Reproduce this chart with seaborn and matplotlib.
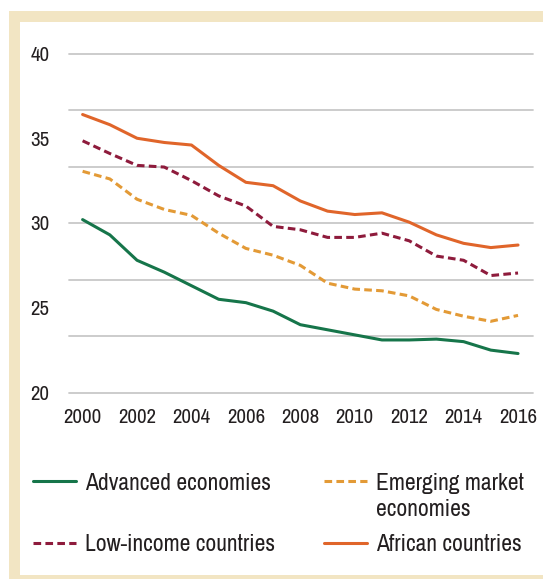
import matplotlib
matplotlib.use("Agg")
import matplotlib.pyplot as plt
from matplotlib.patches import Rectangle
from matplotlib.lines import Line2D
from matplotlib.ticker import FixedLocator
import pandas as pd
import seaborn as sns

# ---- data -------------------------------------------------------------
years = list(range(2000, 2017))
advanced = [30.2, 29.3, 27.8, 27.1, 26.3, 25.5, 25.3, 24.8, 24.0, 23.7, 23.4,
            23.1, 23.1, 23.15, 23.0, 22.5, 22.3]
emerging = [33.05, 32.6, 31.4, 30.8, 30.45, 29.4, 28.5, 28.1, 27.5, 26.45, 26.1,
            26.0, 25.7, 24.9, 24.5, 24.2, 24.55]
low_income = [34.85, 34.1, 33.4, 33.3, 32.5, 31.6, 31.0, 29.8, 29.6, 29.15, 29.15,
              29.4, 28.95, 28.05, 27.8, 26.9, 27.05]
african = [36.4, 35.8, 35.0, 34.75, 34.6, 33.4, 32.4, 32.2, 31.3, 30.7, 30.5,
           30.6, 30.05, 29.3, 28.8, 28.55, 28.7]

group_names = ["Advanced economies", "Emerging market economies",
               "Low-income countries", "African countries"]
y_tick_values = [20, 25, 30, 35, 40]
x_tick_values = list(range(2000, 2017, 2))

# ---- styling ------------------------------------------------------------
palette = {
    "Advanced economies": "#16754A",
    "Emerging market economies": "#E39A36",
    "Low-income countries": "#8E1B3C",
    "African countries": "#E0652A",
}
dash_map = {
    "Advanced economies": "",
    "Emerging market economies": (2.5, 1.4),
    "Low-income countries": (2.5, 1.4),
    "African countries": "",
}
BEIGE = "#F2E5C3"
TEXT = "#231F20"
GRID = "#C8C8C8"
LW = 2.2
LEGEND_SIZE = 17

df = pd.DataFrame({
    "year": years * 4,
    "value": advanced + emerging + low_income + african,
    "group": sum([[g] * len(years) for g in group_names], []),
})

sns.set_theme(style="white")
plt.rcParams["font.family"] = ["Archivo Narrow", "DejaVu Sans"]

W, H = 543, 579
fig = plt.figure(figsize=(W / 100, H / 100), dpi=100, facecolor="white")

# beige frame and white panel
fig.patches.append(Rectangle((9 / W, 0), 1 - 9 / W, (H - 11) / H,
                             transform=fig.transFigure, facecolor=BEIGE,
                             edgecolor="none", zorder=-10))
fig.patches.append(Rectangle((20 / W, 4 / H), 1 - 20 / W, (575 - 22) / H,
                             transform=fig.transFigure, facecolor="white",
                             edgecolor="none", zorder=-9))

ax = fig.add_axes([69 / W, 1 - 392.5 / H, (533 - 69) / W, (392.5 - 53.5) / H])
ax.set_facecolor("none")

sns.lineplot(data=df, x="year", y="value", hue="group", style="group",
             hue_order=group_names, style_order=group_names,
             palette=palette, dashes=dash_map, linewidth=LW,
             legend=False, ax=ax)

ax.set_xlim(1999.5, 2016.55)
ax.set_ylim(20, 40)
ax.set_xticks(x_tick_values)
ax.set_yticks(y_tick_values)
# horizontal rules split the 20-40 range into six bands
ax.yaxis.set_minor_locator(FixedLocator([20 + i * 20 / 6 for i in range(7)]))
ax.yaxis.remove_overlapping_locs = False
ax.grid(False)
ax.grid(which="minor", axis="y", color=GRID, linewidth=1.3)
ax.set_axisbelow(True)
ax.tick_params(which="both", length=0)
ax.tick_params(axis="x", pad=11, labelsize=15, labelcolor=TEXT)
ax.tick_params(axis="y", pad=14, labelsize=15, labelcolor=TEXT)
ax.set_xlabel("")
ax.set_ylabel("")
for s in ax.spines.values():
    s.set_visible(False)
for t in ax.yaxis.get_minor_ticks():
    t.gridline.set_clip_on(False)


def handle(name):
    d = dash_map[name]
    h = Line2D([], [], color=palette[name], linewidth=LW)
    if d:
        h.set_dashes(d)
    return h


leg_kw = dict(frameon=False, fontsize=LEGEND_SIZE, labelcolor=TEXT,
              handlelength=1.8, handletextpad=0.42, labelspacing=1.72,
              borderpad=0, borderaxespad=0, loc="upper left")

col1 = ["Advanced economies", "Low-income countries"]
leg1 = fig.legend([handle(n) for n in col1], col1,
                  bbox_to_anchor=(33 / W, 1 - 472.5 / H), **leg_kw)
col2 = ["Emerging market economies", "African countries"]
leg2 = fig.legend([handle(n) for n in col2], ["Emerging market", "African countries"],
                  bbox_to_anchor=(324 / W, 1 - 472.5 / H), **leg_kw)

# second line of the wrapped label
fig.canvas.draw()
bb = leg2.get_texts()[0].get_window_extent()
x0, _ = fig.transFigure.inverted().transform((bb.x0, bb.y0))
fig.text(x0, 1 - 509 / H, "economies", fontsize=LEGEND_SIZE, color=TEXT,
         ha="left", va="center")

fig.savefig("out.png", dpi=100, facecolor="white")
